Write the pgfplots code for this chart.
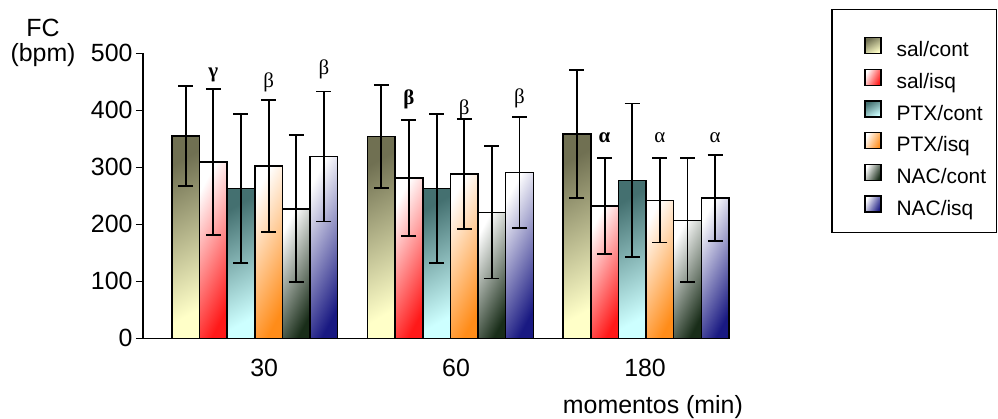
\documentclass[border=0pt]{standalone}
\usepackage{pgfplots}
\pgfplotsset{compat=1.18}
\usepackage{fontspec}
\setmainfont{Liberation Sans}
\newfontfamily\greekfont{Liberation Serif}

\definecolor{salcontA}{RGB}{112,112,82}
\definecolor{salcontB}{RGB}{255,255,200}
\definecolor{salisqB}{RGB}{255,25,25}
\definecolor{ptxcontA}{RGB}{68,112,112}
\definecolor{ptxcontB}{RGB}{205,255,255}
\definecolor{ptxisqB}{RGB}{255,140,25}
\definecolor{naccontB}{RGB}{25,45,25}
\definecolor{nacisqB}{RGB}{25,25,130}

% fill shadings of the six groups (top left towards bottom right)
\tikzset{
  salcont/.style={top color=salcontA, bottom color=salcontB, shading angle=30},
  salisq/.style={top color=white, bottom color=salisqB, shading angle=62},
  ptxcont/.style={top color=ptxcontA, bottom color=ptxcontB, shading angle=30},
  ptxisq/.style={top color=white, bottom color=ptxisqB, shading angle=62},
  naccont/.style={top color=white, bottom color=naccontB, shading angle=62},
  nacisq/.style={top color=white, bottom color=nacisqB, shading angle=62},
  gk/.style={font=\greekfont\fontsize{21}{24}\selectfont, inner sep=0pt},
  gkb/.style={font=\greekfont\bfseries\fontsize{21}{24}\selectfont, inner sep=0pt},
}

\pgfplotsset{
  fcbar/.style={ybar, bar width=0.1413, bar shift=0, draw=black, line width=1.5bp,
    error bars/y dir=both, error bars/y explicit,
    error bars/error bar style={line width=1.9bp, black},
    error bars/error mark options={rotate=90, mark size=7.5bp, line width=1.9bp, black}},
  legsq/.style={legend image code/.code={%
    \draw[black, line width=1.4bp, #1] (0bp,-2bp) rectangle (16bp,14bp);}},
}

% one bar: style, x position, mean, deviation
\newcommand{\fcbar}[4]{\addplot[fcbar, #1, forget plot] coordinates {(#2,#3) +- (0,#4)};}

\begin{document}
\begin{tikzpicture}
\useasboundingbox (0,0) rectangle (998bp,419bp);
\begin{axis}[
  at={(143bp,80.7bp)}, anchor=south west,
  width=586bp, height=285bp, scale only axis,
  xmin=-0.5714, xmax=2.424, ymin=0, ymax=500,
  axis x line*=bottom, axis y line*=left,
  axis line style={line width=1.2bp, -},
  ytick={0,100,200,300,400,500},
  xtick={0.048,1.029,1.995}, xticklabels={30,60,180},
  major x tick style={draw=none},
  tick align=outside, major tick length=7bp,
  ytick style={line width=1.2bp, black},
  tick label style={font=\fontsize{25}{30}\selectfont},
  xticklabel style={anchor=north, inner sep=0pt, yshift=-14bp},
  /pgf/number format/assume math mode=true,
  xlabel={momentos (min)},
  xlabel style={at={(rel axis cs:1.024,-0.265)}, anchor=base east, inner sep=0pt,
    font=\fontsize{25}{30}\selectfont},
  clip=false,
  legend cell align=left,
  legend style={at={(rel axis cs:1.2304,1.0582)}, anchor=north west,
    draw=none, fill=none, inner sep=0pt, row sep=7bp,
    font=\fontsize{21}{25}\selectfont,
    nodes={inner sep=0pt, text height=15bp, text depth=5bp},
    /tikz/every odd column/.append style={column sep=15bp}},
]
% 30 min
\fcbar{salcont}{-0.3533}{355}{88}
\fcbar{salisq}{-0.2120}{309}{128}
\fcbar{ptxcont}{-0.0707}{263}{131}
\fcbar{ptxisq}{0.0707}{302}{116}
\fcbar{naccont}{0.2120}{227}{129}
\fcbar{nacisq}{0.3533}{319}{114}
% 60 min
\fcbar{salcont}{0.6467}{354}{91}
\fcbar{salisq}{0.7880}{281}{102}
\fcbar{ptxcont}{0.9293}{263}{131}
\fcbar{ptxisq}{1.0707}{288}{96}
\fcbar{naccont}{1.2120}{221}{116}
\fcbar{nacisq}{1.3533}{291}{98}
% 180 min
\fcbar{salcont}{1.6467}{358}{112}
\fcbar{salisq}{1.7880}{232}{84}
\fcbar{ptxcont}{1.9293}{277}{135}
\fcbar{ptxisq}{2.0707}{242}{74}
\fcbar{naccont}{2.2120}{207}{109}
\fcbar{nacisq}{2.3533}{246}{76}

\addlegendimage{legsq=salcont}\addlegendentry{sal/cont}
\addlegendimage{legsq=salisq}\addlegendentry{sal/isq}
\addlegendimage{legsq=ptxcont}\addlegendentry{PTX/cont}
\addlegendimage{legsq=ptxisq}\addlegendentry{PTX/isq}
\addlegendimage{legsq=naccont}\addlegendentry{NAC/cont}
\addlegendimage{legsq=nacisq}\addlegendentry{NAC/isq}

% significance letters
\node[gkb] at (axis cs:-0.2120,462) {γ};
\node[gk]  at (axis cs:0.0707,449) {β};
\node[gk]  at (axis cs:0.3533,471) {β};
\node[gkb] at (axis cs:0.7880,420) {β};
\node[gk]  at (axis cs:1.0707,402) {β};
\node[gk]  at (axis cs:1.3533,421) {β};
\node[gkb] at (axis cs:1.7880,352) {α};
\node[gk]  at (axis cs:2.0707,352) {α};
\node[gk]  at (axis cs:2.3533,352) {α};

% axis title
\node[align=center, font=\fontsize{25}{25}\selectfont, inner sep=0pt]
  at (rel axis cs:-0.1706,1.035) {FC\\(bpm)};
\end{axis}
\draw[line width=1.3bp] (832bp,409.7bp) rectangle (996.5bp,186.7bp);
\end{tikzpicture}
\end{document}
